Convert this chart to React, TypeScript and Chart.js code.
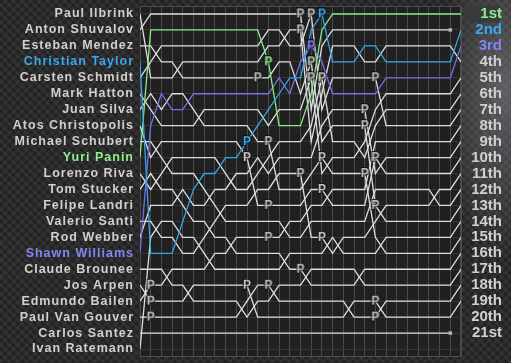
import React, { useEffect, useRef } from "react";
import { Chart, registerables } from "chart.js";

Chart.register(...registerables);

// ---- data -------------------------------------------------------------
const laps = [0, 1, 2, 3, 4, 5, 6, 7, 8, 9, 10, 11, 12, 13, 14, 15, 16, 17, 18, 19, 20, 21, 22, 23, 24, 25, 26, 27, 28, 29, 30];

const driverNames = [
  "Paul Ilbrink", "Anton Shuvalov", "Esteban Mendez", "Christian Taylor", "Carsten Schmidt",
  "Mark Hatton", "Juan Silva", "Atos Christopolis", "Michael Schubert", "Yuri Panin",
  "Lorenzo Riva", "Tom Stucker", "Felipe Landri", "Valerio Santi", "Rod Webber",
  "Shawn Williams", "Claude Brounee", "Jos Arpen", "Edmundo Bailen", "Paul Van Gouver",
  "Carlos Santez", "Ivan Ratemann",
];

const positionLabels = [
  "1st", "2nd", "3rd", "4th", "5th", "6th", "7th", "8th", "9th", "10th", "11th",
  "12th", "13th", "14th", "15th", "16th", "17th", "18th", "19th", "20th", "21st",
];

// running position (0 = leader) per lap, lap 0 = grid
const paulIlbrink = [0, 4, 4, 4, 3, 3, 3, 3, 3, 3, 3, 3, 2, 2, 1, 1, 8, 5, 2, 2, 2, 3, 3, 2, 2, 2, 2, 2, 2, 2, 3];
const antonShuvalov = [1, 0, 0, 0, 0, 0, 0, 0, 0, 0, 0, 0, 0, 0, 0, 0, 6, 2, 1, 1, 1, 1, 1, 1, 1, 1, 1, 1, 1, 1, null];
const estebanMendez = [2, 2, 3, 3, 4, 4, 4, 4, 4, 4, 4, 4, 4, 3, 3, 5, 3, 8, 7, 7, 7, 7, 12, 13, 13, 13, 13, 13, 13, 13, 12];
const christianTaylor = [3, 15, 15, 15, 13, 11, 10, 10, 9, 9, 8, 7, 6, 5, 4, 4, 1, 0, 3, 3, 3, 2, 2, 3, 3, 3, 3, 3, 3, 3, 1];
const carstenSchmidt = [4, 3, 2, 2, 2, 2, 2, 2, 2, 2, 2, 2, 1, 1, 2, 2, 0, 6, 4, 4, 4, 4, 4, 7, 7, 7, 7, 7, 7, 7, 6];
const markHatton = [5, 6, 7, 7, 7, 7, 6, 6, 6, 6, 6, 6, 7, 6, 6, 6, 4, 10, 9, 9, 9, 8, 6, 5, 5, 5, 5, 5, 5, 5, 4];
const juanSilva = [6, 5, 6, 5, 5, 6, 7, 7, 7, 7, 7, 8, 8, 11, 11, 11, 10, 9, 10, 10, 10, 10, 14, 15, 15, 15, 15, 15, 15, 15, 14];
const atosChristopolis = [7, 9, 8, 8, 8, 8, 8, 8, 8, 8, 9, 12, 12, 12, 12, 12, 11, 11, 12, 12, 12, 12, 9, 10, 10, 10, 10, 10, 10, 10, 9];
const michaelSchubert = [8, 8, 9, 10, 10, 10, 11, 12, 13, 13, 13, 13, 13, 13, 14, 14, 13, 13, 13, 13, 13, 13, 11, 11, 11, 11, 11, 11, 12, 12, 11];
const yuriPanin = [9, 1, 1, 1, 1, 1, 1, 1, 1, 1, 1, 1, 3, 7, 7, 7, 5, 1, 0, 0, 0, 0, 0, 0, 0, 0, 0, 0, 0, 0, 0];
const lorenzoRiva = [10, 11, 10, 9, 9, 9, 9, 9, 10, 11, 11, 10, 9, 8, 8, 8, 7, 4, 8, 8, 8, 9, 7, 6, 6, 6, 6, 6, 6, 6, 5];
const tomStucker = [11, 10, 11, 11, 12, 13, 13, 14, 14, 15, 15, 15, 15, 15, 16, 16, 17, 17, 17, 17, 17, 16, 16, 16, 16, 16, 16, 16, 16, 16, 15];
const felipeLandri = [12, null, null, null, null, null, null, null, null, null, null, null, null, null, null, null, null, null, null, null, null, null, null, null, null, null, null, null, null, null, null];
const valerioSanti = [13, 13, 14, 14, 15, 15, 14, 13, 12, 12, 12, 11, 11, 10, 10, 10, 14, 14, 15, 14, 14, 14, 13, 12, 12, 12, 12, 12, 11, 11, 10];
const rodWebber = [14, 12, 12, 12, 11, 12, 12, 11, 11, 10, 10, 9, 10, 9, 9, 9, 9, 7, 6, 6, 6, 6, 10, 9, 9, 9, 9, 9, 9, 9, 8];
const shawnWilliams = [15, 7, 5, 6, 6, 5, 5, 5, 5, 5, 5, 5, 5, 4, 5, 3, 2, 3, 5, 5, 5, 5, 5, 4, 4, 4, 4, 4, 4, 4, 2];
const claudeBrounee = [16, 16, 16, 17, 17, 18, 18, 18, 18, 18, 19, 18, 18, 17, 17, 17, 16, 16, 16, 16, 16, 17, 17, 17, 17, 17, 17, 17, 17, 17, 16];
const josArpen = [17, 18, 18, 18, 18, 17, 17, 17, 17, 17, 17, 19, 19, 19, 19, 19, 19, 19, 19, 19, 18, 18, 18, 19, 19, 19, 19, 19, 19, 19, 18];
const edmundoBailen = [18, 17, 17, 16, 16, 16, 16, 15, 15, 14, 14, 14, 14, 14, 13, 13, 12, 12, 11, 11, 11, 11, 8, 8, 8, 8, 8, 8, 8, 8, 7];
const paulVanGouver = [19, 19, 19, 19, 19, 19, 19, 19, 19, 19, 18, 17, 17, 18, 18, 18, 18, 18, 18, 18, 19, 19, 19, 18, 18, 18, 18, 18, 18, 18, 17];
const carlosSantez = [20, 20, 20, 20, 20, 20, 20, 20, 20, 20, 20, 20, 20, 20, 20, 20, 20, 20, 20, 20, 20, 20, 20, 20, 20, 20, 20, 20, 20, 20, null];
const ivanRatemann = [21, 14, 13, 13, 14, 14, 15, 16, 16, 16, 16, 16, 16, 16, 15, 15, 15, 15, 14, 15, 15, 15, 15, 14, 14, 14, 14, 14, 14, 14, 13];

// pit stops: lap and running position where the "P" is shown
const pitLaps = [1, 1, 1, 10, 10, 10, 11, 12, 12, 12, 12, 12, 15, 15, 15, 15, 16, 16, 16, 16, 17, 17, 17, 17, 17, 21, 21, 21, 22, 22, 22, 22, 22];
const pitRows = [17, 18, 19, 8, 9, 17, 4, 3, 8, 12, 14, 17, 0, 1, 10, 16, 0, 2, 3, 4, 0, 4, 9, 11, 14, 6, 7, 10, 4, 9, 12, 18, 19];

// drivers whose line ends with a square marker, and the lap of it
const retiredDrivers = ["Anton Shuvalov", "Carlos Santez"];
const retiredLaps = [29, 29];

// ---- styles -----------------------------------------------------------
const WHITE_LINE = "#dedede";
const WHITE_TEXT = "#d0d0d0";
const lineColors: Record<string, string> = {
  "Christian Taylor": "#34a6e6",
  "Yuri Panin": "#86ec86",
  "Shawn Williams": "#7272e6",
};
const textColors: Record<string, string> = {
  "Christian Taylor": "#3aa8ee",
  "Yuri Panin": "#8cf08c",
  "Shawn Williams": "#8585f5",
};
const FONT = "'Liberation Sans', Arial, Helvetica, sans-serif";

const noPad = (s: any) => {
  s.paddingTop = 0;
  s.paddingBottom = 0;
  s.paddingLeft = 0;
  s.paddingRight = 0;
};

export default function App() {
  const ref = useRef<HTMLCanvasElement>(null);

  useEffect(() => {
    document.body.style.margin = "0";
    const canvas = ref.current;
    if (!canvas) return;

    const series = [
      paulIlbrink, antonShuvalov, estebanMendez, christianTaylor, carstenSchmidt,
      markHatton, juanSilva, atosChristopolis, michaelSchubert, yuriPanin,
      lorenzoRiva, tomStucker, felipeLandri, valerioSanti, rodWebber,
      shawnWilliams, claudeBrounee, josArpen, edmundoBailen, paulVanGouver,
      carlosSantez, ivanRatemann,
    ];

    const makeP = (color: string) => {
      const c = document.createElement("canvas");
      c.width = 10;
      c.height = 13;
      const g = c.getContext("2d")!;
      g.font = `bold 12px ${FONT}`;
      g.textAlign = "center";
      g.textBaseline = "middle";
      g.lineWidth = 2;
      g.strokeStyle = "rgba(15,15,15,0.85)";
      g.strokeText("P", 5, 7);
      g.fillStyle = color;
      g.fillText("P", 5, 7);
      return c;
    };
    const pCache: Record<string, HTMLCanvasElement> = {};
    const pFor = (color: string) => (pCache[color] ??= makeP(color));

    const pitPoints = pitLaps.map((lap, i) => ({ x: lap, y: pitRows[i] }));
    const pitImages = pitLaps.map((lap, i) => {
      const who = series.findIndex((s) => s[lap] === pitRows[i]);
      const name = who >= 0 ? driverNames[who] : "";
      return pFor(textColors[name] ?? "#c4c4c4");
    });

    const driverSets = driverNames.map((name, i) => {
      const ri = retiredDrivers.indexOf(name);
      const color = lineColors[name] ?? WHITE_LINE;
      return {
        type: "line" as const,
        label: name,
        data: series[i],
        borderColor: color,
        backgroundColor: "#b4b4b4",
        borderWidth: 1.3,
        pointRadius: laps.map((l) => (ri >= 0 && l === retiredLaps[ri] ? 2.5 : 0)),
        pointStyle: "rect" as const,
        pointBorderWidth: 0,
        tension: 0,
        spanGaps: false,
        order: lineColors[name] ? 1 : 2,
      };
    });

    const plotFrame = {
      id: "plotFrame",
      beforeDraw(chart: any) {
        const { ctx, chartArea: a } = chart;
        ctx.save();
        ctx.fillStyle = "#202020";
        ctx.fillRect(a.left, a.top, a.right - a.left, a.bottom - a.top);
        ctx.strokeStyle = "#4c4c4c";
        ctx.lineWidth = 1;
        ctx.strokeRect(a.left + 0.5, a.top + 0.5, a.right - a.left - 1, a.bottom - a.top - 1);
        ctx.restore();
        ctx.letterSpacing = "1px";
      },
      afterDatasetsDraw(chart: any) {
        const { ctx, scales } = chart;
        ctx.letterSpacing = "0px";
        // dark box behind the winner's position label
        const y0 = scales.y2.getPixelForValue(0);
        ctx.save();
        ctx.fillStyle = "rgba(58,58,58,0.95)";
        ctx.fillRect(scales.y2.left + 3, y0 - 8.5, 36, 17);
        ctx.restore();
      },
      afterDraw(chart: any) {
        chart.ctx.letterSpacing = "0px";
      },
    };

    const chart = new Chart(canvas, {
      type: "line",
      data: {
        labels: laps,
        datasets: [
          ...driverSets,
          {
            type: "line" as const,
            label: "pit",
            data: pitPoints as any,
            showLine: false,
            pointStyle: pitImages as any,
            pointRadius: 5,
            order: 0,
          } as any,
        ],
      },
      options: {
        animation: false,
        responsive: true,
        maintainAspectRatio: false,
        events: [],
        layout: { padding: { top: 5, bottom: 5, left: 0, right: 9 } },
        plugins: {
          legend: { display: false },
          tooltip: { enabled: false },
        },
        scales: {
          x: {
            type: "linear",
            min: 0,
            max: 30,
            ticks: { display: false, stepSize: 1 },
            grid: { color: "#4a4a4a", lineWidth: 1, drawTicks: false, tickLength: 0 },
            border: { display: false },
            afterFit: (s: any) => {
              s.height = 0;
              noPad(s);
            },
          },
          y: {
            type: "linear",
            position: "left",
            reverse: true,
            min: -0.5,
            max: 21.5,
            afterBuildTicks: (s: any) => {
              s.ticks = driverNames.map((_, i) => ({ value: i }));
            },
            ticks: {
              autoSkip: false,
              padding: 6,
              font: { family: FONT, size: 12.5, weight: "bold" },
              color: (c: any) => textColors[driverNames[c.index]] ?? WHITE_TEXT,
              callback: (v: any) => driverNames[v as number],
            },
            grid: { color: "#363636", drawTicks: false, tickLength: 0 },
            border: { display: false },
            afterFit: (s: any) => {
              s.width = 140;
              noPad(s);
            },
          },
          y2: {
            type: "linear",
            position: "right",
            reverse: true,
            min: -0.5,
            max: 21.5,
            afterBuildTicks: (s: any) => {
              s.ticks = positionLabels.map((_, i) => ({ value: i }));
            },
            ticks: {
              autoSkip: false,
              z: 1,
              padding: 0,
              crossAlign: "far",
              font: { family: FONT, size: 15, weight: "bold" },
              color: (c: any) =>
                c.index === 0 ? textColors["Yuri Panin"] : c.index === 1 ? textColors["Christian Taylor"] : c.index === 2 ? textColors["Shawn Williams"] : WHITE_TEXT,
              callback: (v: any) => positionLabels[v as number],
            },
            grid: { display: false, drawTicks: false, tickLength: 0 },
            border: { display: false },
            afterFit: (s: any) => {
              s.width = 41;
              noPad(s);
            },
          },
        },
      } as any,
      plugins: [plotFrame],
    });

    return () => chart.destroy();
  }, []);

  return (
    <div
      style={{
        width: 511,
        height: 363,
        position: "relative",
        background:
          "radial-gradient(ellipse 70px 170px at 505px 90px, rgba(140,140,150,0.55), rgba(140,140,150,0) 100%)," +
          "repeating-linear-gradient(45deg, rgba(255,255,255,0.035) 0px 3px, rgba(0,0,0,0.06) 3px 6px)," +
          "repeating-linear-gradient(-45deg, rgba(255,255,255,0.03) 0px 3px, rgba(0,0,0,0.05) 3px 6px)," +
          "#262626",
      }}
    >
      <canvas ref={ref} />
    </div>
  );
}
